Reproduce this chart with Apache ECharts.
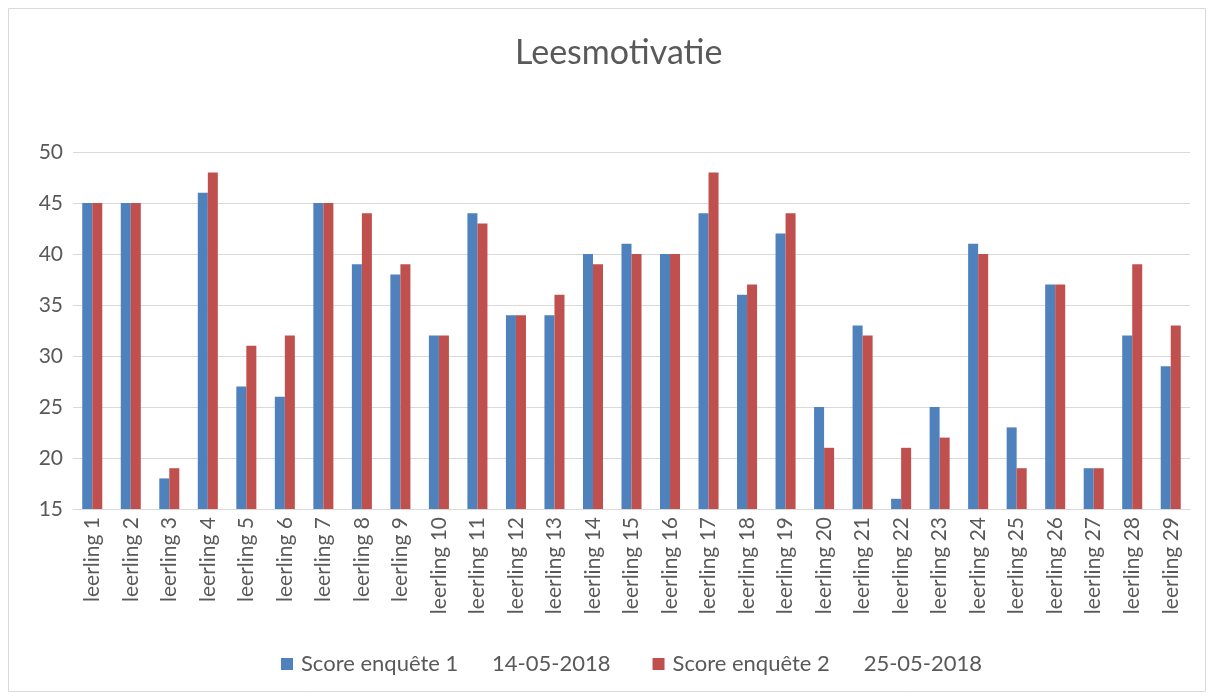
<!DOCTYPE html>
<html>
<head>
<meta charset="utf-8">
<title>Leesmotivatie</title>
<script src="https://cdn.jsdelivr.net/npm/echarts@6/dist/echarts.min.js"></script>
<style>
  html, body { margin: 0; padding: 0; background: #fff; }
  #chart { width: 1214px; height: 700px; box-sizing: border-box; }
</style>
</head>
<body>
<div id="chart"></div>
<script>
// categorieën en scores
var leerlingen = [];
for (var i = 1; i <= 29; i++) leerlingen.push('leerling ' + i);

var enquete1 = [45, 45, 18, 46, 27, 26, 45, 39, 38, 32, 44, 34, 34, 40, 41, 40, 44, 36, 42, 25, 33, 16, 25, 41, 23, 37, 19, 32, 29];
var enquete2 = [45, 45, 19, 48, 31, 32, 45, 44, 39, 32, 43, 34, 36, 39, 40, 40, 48, 37, 44, 21, 32, 21, 22, 40, 19, 37, 19, 39, 33];

var naam1 = 'Score enquête 1      14-05-2018';
var naam2 = 'Score enquête 2      25-05-2018';

var font = 'Lato, "Open Sans", sans-serif';
var grijs = '#595959';

var myChart = echarts.init(document.getElementById('chart'));
var option = {
    animation: false,
    graphic: [{
        type: 'rect',
        shape: { x: 8.5, y: 8.5, width: 1197, height: 683 },
        style: { fill: 'none', stroke: '#d9d9d9', lineWidth: 1 }
    }],
    title: {
        text: 'Leesmotivatie',
        left: 510,
        top: 31,
        textStyle: { fontFamily: font, fontSize: 34, fontWeight: 'normal', color: grijs }
    },
    legend: {
        bottom: 20,
        left: 276,
        itemWidth: 12,
        itemHeight: 12,
        itemGap: 42,
        icon: 'rect',
        textStyle: { fontFamily: font, fontSize: 22, color: grijs, padding: [0, 0, 0, 3] },
        data: [naam1, naam2]
    },
    grid: { left: 73, right: 24, top: 152, bottom: 191, containLabel: false },
    xAxis: {
        type: 'category',
        data: leerlingen,
        axisLine: { lineStyle: { color: '#d9d9d9' } },
        axisTick: { show: false },
        axisLabel: {
            rotate: 90,
            interval: 0,
            margin: 8,
            fontFamily: font,
            fontSize: 21,
            color: grijs
        }
    },
    yAxis: {
        type: 'value',
        min: 15,
        max: 50,
        interval: 5,
        axisLine: { show: false },
        axisTick: { show: false },
        axisLabel: { fontFamily: font, fontSize: 21, color: grijs, margin: 10 },
        splitLine: { lineStyle: { color: '#d9d9d9', width: 1.2 } }
    },
    series: [{
        name: naam1,
        type: 'bar',
        data: enquete1,
        barGap: '0%',
        barCategoryGap: '48%',
        itemStyle: { color: '#4f81bd' }
    }, {
        name: naam2,
        type: 'bar',
        data: enquete2,
        itemStyle: { color: '#c0504d' }
    }]
};
myChart.setOption(option);
</script>
</body>
</html>
